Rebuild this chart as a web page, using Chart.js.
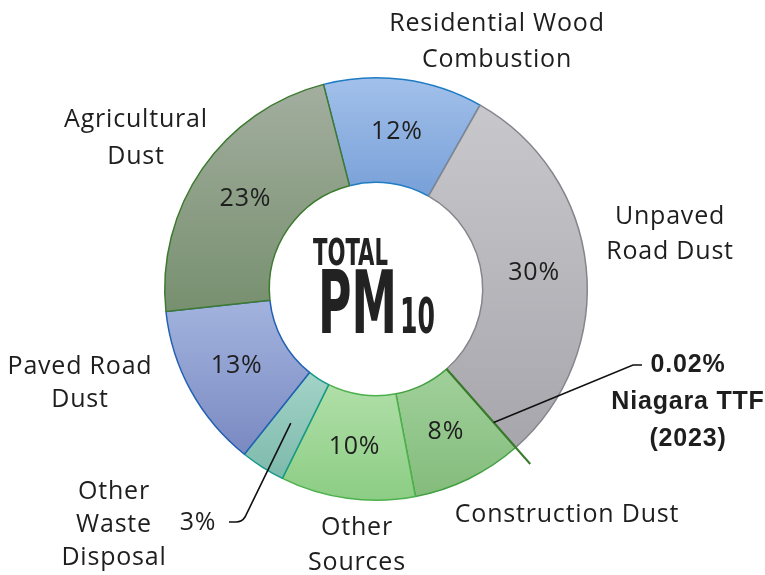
<!DOCTYPE html>
<html>
<head>
<meta charset="utf-8">
<script src="https://cdn.jsdelivr.net/npm/chart.js@4.4.1/dist/chart.umd.min.js"></script>
<style>
  html, body { margin: 0; padding: 0; background: #fff; }
  #wrap { width: 765px; height: 575px; position: relative; }
</style>
</head>
<body>
<div id="wrap"><canvas id="myChart"></canvas></div>
<script>
// data
const categories = ['Residential Wood Combustion', 'Unpaved Road Dust', 'Niagara TTF (2023)', 'Construction Dust',
  'Other Sources', 'Other Waste Disposal', 'Paved Road Dust', 'Agricultural Dust']
const shares = [12.2, 30.3, 0.02, 8.5, 10.3, 3.4, 12.6, 22.7]
const pctLabels = ['12%', '30%', '0.02%', '8%', '10%', '3%', '13%', '23%']
const nameLines = [
  ['Residential Wood', 'Combustion'],
  ['Unpaved', 'Road Dust'],
  ['0.02%', 'Niagara TTF', '(2023)'],
  ['Construction Dust'],
  ['Other', 'Sources'],
  ['Other', 'Waste', 'Disposal'],
  ['Paved Road', 'Dust'],
  ['Agricultural', 'Dust']
]

// styles
const topColors = ['#a2c0ea', '#c8c8cc', '#3b7a2c', '#a0d09a', '#b0dfa8', '#a3d3c7', '#a3b3de', '#a3ae9f']
const botColors = ['#78a0d8', '#a6a6ac', '#3b7a2c', '#84bc7c', '#8ccd84', '#7dbaac', '#7a8ac2', '#77906f']
const borderColors = ['#1f7cc4', '#85858c', '#3b7a2c', '#43a043', '#4cb04c', '#17998a', '#2160b2', '#3d7a30']
// label anchors relative to doughnut centre (centre of first line)
const labelPos = [[121, -265], [294, -72], [312, 76], [191, 226], [-19, 239], [-262, 203], [-296, 78], [-240, -169]]
const lineH = [36, 35, 37, 0, 35, 33, 33, 37]
const textColor = '#1e1e1e'
const labelFont = '25px "Open Sans", "Noto Sans", sans-serif'

const sliceGradient = (ctx) => {
  const i = ctx.dataIndex
  const el = ctx.element
  const chart = ctx.chart
  if (!el || el.outerRadius === undefined || !chart.ctx) return topColors[i]
  let minY = Infinity, maxY = -Infinity
  for (let k = 0; k <= 30; k++) {
    const a = el.startAngle + (el.endAngle - el.startAngle) * k / 30
    for (const r of [el.innerRadius, el.outerRadius]) {
      const y = el.y + r * Math.sin(a)
      if (y < minY) minY = y
      if (y > maxY) maxY = y
    }
  }
  if (!(maxY > minY)) return topColors[i]
  const g = chart.ctx.createLinearGradient(0, minY, 0, maxY)
  g.addColorStop(0, topColors[i])
  g.addColorStop(1, botColors[i])
  return g
}

const extrasPlugin = {
  id: 'extras',
  afterDatasetsDraw(chart) {
    const c = chart.ctx
    const arcs = chart.getDatasetMeta(0).data
    const cx = arcs[0].x, cy = arcs[0].y
    c.save()

    // Niagara TTF sliver drawn as a line poking out of the ring
    const ng = arcs[2]
    const na = (ng.startAngle + ng.endAngle) / 2
    c.strokeStyle = borderColors[2]
    c.lineWidth = 2
    c.beginPath()
    c.moveTo(cx + ng.innerRadius * Math.cos(na), cy + ng.innerRadius * Math.sin(na))
    c.lineTo(cx + (ng.outerRadius + 22) * Math.cos(na), cy + (ng.outerRadius + 22) * Math.sin(na))
    c.stroke()

    // leader lines
    c.strokeStyle = '#111'
    c.lineWidth = 1.6
    c.beginPath()
    c.moveTo(cx + 178 * Math.cos(na), cy + 178 * Math.sin(na))
    c.lineTo(cx + 257, cy + 76)
    c.lineTo(cx + 266, cy + 76)
    c.stroke()
    const ow = arcs[5].tooltipPosition()
    c.beginPath()
    c.moveTo(ow.x, ow.y)
    c.lineTo(cx - 131, cy + 228)
    c.quadraticCurveTo(cx - 134, cy + 233, cx - 140, cy + 233)
    c.lineTo(cx - 147, cy + 233)
    c.stroke()

    // percentages inside slices
    c.fillStyle = textColor
    c.font = labelFont
    c.letterSpacing = '0.8px'
    c.textAlign = 'center'
    c.textBaseline = 'middle'
    arcs.forEach((a, i) => {
      if (i === 2 || i === 5) return
      const p = a.tooltipPosition()
      c.fillText(pctLabels[i], p.x, p.y)
    })
    c.fillText(pctLabels[5], cx - 178, cy + 234)

    // category names
    nameLines.forEach((lines, i) => {
      c.font = i === 2 ? 'bold 25px "Liberation Sans", Arial, sans-serif' : labelFont
      lines.forEach((t, j) => {
        c.fillText(t, cx + labelPos[i][0], cy + labelPos[i][1] + j * lineH[i])
      })
    })
    c.letterSpacing = '0px'

    // centre title, condensed by horizontal scaling
    const fit = (txt, dx, dy, w, cap) => {
      c.font = 'bold ' + Math.round(cap / 0.72) + 'px "Liberation Sans Narrow", "DejaVu Sans Condensed", sans-serif'
      c.textAlign = 'left'
      c.textBaseline = 'alphabetic'
      const m = c.measureText(txt).width
      c.save()
      c.translate(cx + dx, cy + dy)
      c.scale(w / m, 1)
      c.fillStyle = '#222'
      c.fillText(txt, 0, 0)
      c.restore()
    }
    fit('TOTAL', -63, -24, 75, 27)
    fit('PM', -58, 44, 79, 63)
    fit('10', 24, 44, 35, 35)
    c.restore()
  }
}

const grafica = document.getElementById('myChart').getContext('2d')
const myChart = new Chart(grafica, {
  type: 'doughnut',
  data: {
    labels: categories,
    datasets: [{
      data: shares,
      backgroundColor: sliceGradient,
      borderColor: borderColors,
      borderWidth: 1.5,
      borderAlign: 'center'
    }]
  },
  options: {
    responsive: true,
    maintainAspectRatio: false,
    animation: false,
    rotation: -14.4,
    cutout: '50.5%',
    layout: { padding: { top: 77, bottom: 74, left: 164, right: 177 } },
    plugins: {
      legend: { display: false },
      tooltip: { enabled: false }
    }
  },
  plugins: [extrasPlugin]
})
myChart.update()
</script>
</body>
</html>
